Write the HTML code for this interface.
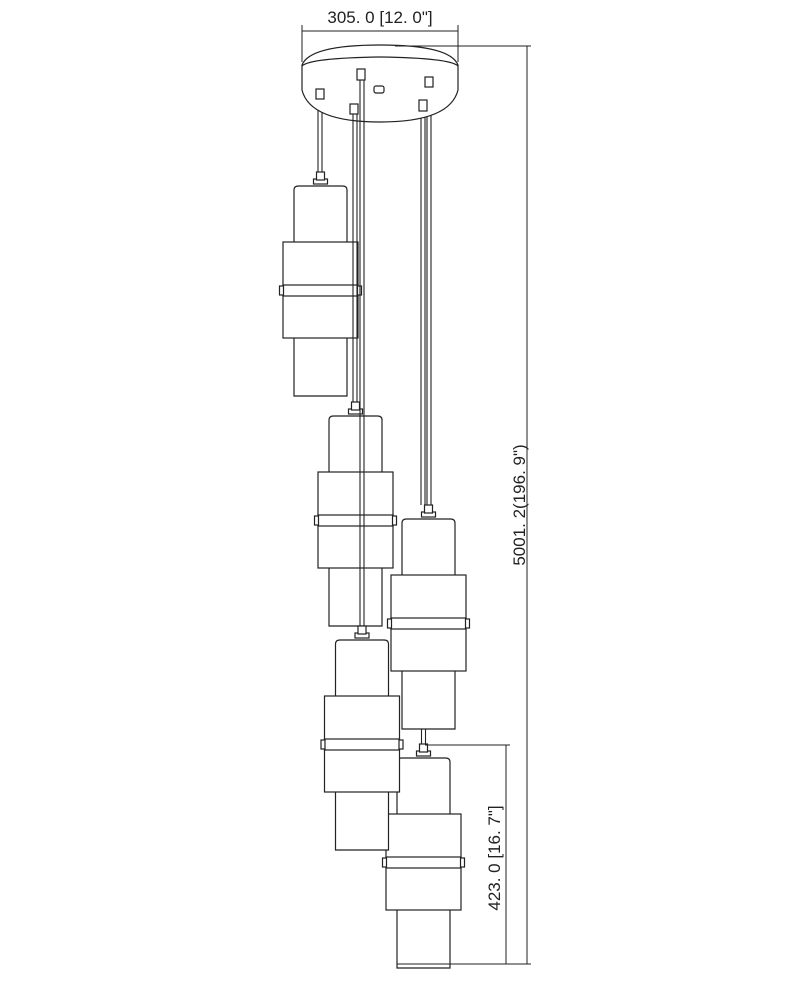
<!DOCTYPE html>
<html><head><style>body{margin:0;background:#fff}svg{display:block}</style></head><body>
<svg width="800" height="1000" viewBox="0 0 800 1000" xmlns="http://www.w3.org/2000/svg" font-family="Liberation Sans, sans-serif">
<defs>
<g id="p" fill="#fff" stroke="#222" stroke-width="1.2">
  <rect x="-7" y="-7" width="14" height="5"/>
  <rect x="-4" y="-14" width="8" height="8"/>
  <path d="M-26.5,210 V4 Q-26.5,0 -22,0 H22 Q26.5,0 26.5,4 V210 Z"/>
  <rect x="-37.5" y="56" width="75" height="96"/>
  <rect x="-37.5" y="99" width="75" height="11"/>
  <rect x="-41" y="100" width="4" height="9"/>
  <rect x="37" y="100" width="4" height="9"/>
</g>
</defs>
<g stroke="#222" stroke-width="1.1" fill="none">
  <line x1="318" y1="98" x2="318" y2="172"/><line x1="322" y1="98" x2="322" y2="172"/>
  <line x1="421" y1="108" x2="421" y2="505"/><line x1="425" y1="108" x2="425" y2="505"/>
  <line x1="427" y1="86" x2="427" y2="505"/><line x1="431" y1="86" x2="431" y2="505"/>
  <line x1="421.5" y1="728" x2="421.5" y2="744"/><line x1="425.5" y1="728" x2="425.5" y2="744"/>
</g>
<!-- canopy -->
<g stroke="#222" stroke-width="1.2" fill="#fff">
  <path d="M302,65 Q310,45 380,45 Q450,45 458,65 V90 Q450,122 380,122 Q310,122 302,90 Z"/>
  <path d="M302,66 Q310,58 380,57 Q450,58 458,66" fill="none"/>
  <rect x="316" y="89" width="8" height="10"/>
  <rect x="350" y="104" width="8" height="10"/>
  <rect x="357" y="69" width="8" height="11"/>
  <rect x="419" y="100" width="8" height="11"/>
  <rect x="425" y="77" width="8" height="10"/>
  <rect x="374" y="86" width="10" height="7" rx="2"/>
</g>
<use href="#p" x="320.5" y="186"/>
<use href="#p" x="355.5" y="416"/>
<use href="#p" x="428.5" y="519"/>
<use href="#p" x="423.5" y="758"/>
<use href="#p" x="362" y="640"/>
<g stroke="#222" stroke-width="1.1" fill="none">
  <line x1="353" y1="114" x2="353" y2="402"/><line x1="357" y1="114" x2="357" y2="402"/>
  <line x1="360" y1="80" x2="360" y2="626"/><line x1="364" y1="80" x2="364" y2="626"/>
</g>
<!-- dimensions -->
<g stroke="#222" stroke-width="1" fill="none">
  <line x1="302" y1="25" x2="302" y2="62"/><line x1="458" y1="25" x2="458" y2="62"/>
  <line x1="302" y1="31" x2="458" y2="31"/>
  <line x1="395" y1="46" x2="531" y2="46"/>
  <line x1="527" y1="46" x2="527" y2="964"/>
  <line x1="397" y1="964" x2="531" y2="964"/>
  <line x1="425" y1="745" x2="510" y2="745"/>
  <line x1="506" y1="745" x2="506" y2="964"/>
</g>
<g fill="#222" font-size="17">
  <text x="380" y="23" text-anchor="middle">305. 0 [12. 0"]</text>
  <text transform="translate(525,505) rotate(-90)" text-anchor="middle">5001. 2(196. 9")</text>
  <text transform="translate(500,858) rotate(-90)" text-anchor="middle">423. 0 [16. 7"]</text>
</g>
</svg>
</body></html>
